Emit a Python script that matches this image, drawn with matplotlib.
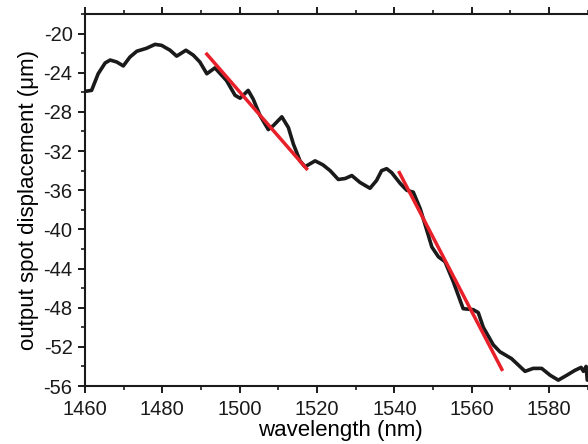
import numpy as np
import matplotlib.pyplot as plt
from matplotlib.ticker import MultipleLocator

plt.rcParams['font.family'] = ['Liberation Sans', 'DejaVu Sans']
plt.rcParams['axes.unicode_minus'] = False

wavelength = [1460.0, 1461.7, 1463.4, 1465.2, 1466.5, 1468.2, 1469.9, 1471.6, 1473.4, 1475.9,
              1478.1, 1479.8, 1482.0, 1483.7, 1486.1, 1488.0, 1489.7, 1491.5, 1493.6, 1496.6,
              1498.8, 1500.1, 1502.2, 1503.5, 1505.3, 1507.4, 1508.7, 1510.9, 1512.6, 1513.9,
              1515.6, 1516.9, 1519.5, 1521.5, 1523.4, 1525.5, 1527.3, 1529.0, 1531.1, 1533.7,
              1535.4, 1536.7, 1538.0, 1539.3, 1541.5, 1543.2, 1544.9, 1546.7, 1548.4, 1549.7,
              1551.4, 1553.1, 1555.2, 1557.8, 1560.4, 1561.7, 1563.0, 1565.6, 1567.3, 1570.3,
              1573.8, 1575.9, 1578.1, 1580.3, 1582.4, 1584.6, 1586.7, 1588.3, 1588.9, 1589.6,
              1589.9]
displacement = [-25.9, -25.8, -24.1, -23.0, -22.7, -22.9, -23.3, -22.4, -21.8, -21.5,
                -21.1, -21.2, -21.7, -22.3, -21.7, -22.2, -22.9, -24.1, -23.5, -24.8,
                -26.3, -26.6, -25.8, -26.7, -28.4, -29.8, -29.4, -28.5, -29.6, -31.3,
                -33.0, -33.6, -33.0, -33.4, -34.0, -34.9, -34.8, -34.5, -35.2, -35.8,
                -35.0, -34.0, -33.8, -34.2, -35.3, -36.0, -36.2, -37.9, -40.1, -41.8,
                -42.8, -43.3, -45.3, -48.1, -48.2, -48.5, -50.0, -51.8, -52.5, -53.2,
                -54.5, -54.2, -54.2, -54.9, -55.4, -54.9, -54.4, -54.1, -54.5, -54.0,
                -55.4]

# linear fits (end points)
fit1_x = [1491.5, 1517.3]
fit1_y = [-22.1, -33.8]
fit2_x = [1541.3, 1567.8]
fit2_y = [-34.2, -54.3]

fig = plt.figure(figsize=(5.88, 4.44), dpi=100)
ax = fig.add_axes([0.1446, 0.1306, 0.868, 0.8378])

ax.plot(wavelength, displacement, color='#1a1a1a', lw=2.6,
        solid_joinstyle='round', solid_capstyle='round')
ax.plot(fit1_x, fit1_y, color='#e8202a', lw=2.5)
ax.plot(fit2_x, fit2_y, color='#e8202a', lw=2.5)

ax.set_xlim(1460, 1592)
ax.set_ylim(-56, -18)
ax.xaxis.set_major_locator(MultipleLocator(20))
ax.xaxis.set_minor_locator(MultipleLocator(10))
ax.yaxis.set_minor_locator(MultipleLocator(2))
ax.set_yticks(np.arange(-56, -19, 4))

for s in ax.spines.values():
    s.set_linewidth(1.5)
    s.set_color('#1a1a1a')

ax.tick_params(which='major', direction='out', length=5, width=1.4, labelsize=14.5,
               top=True, colors='#1a1a1a')
ax.tick_params(which='minor', direction='out', length=3, width=1.2, top=True, colors='#1a1a1a')
ax.tick_params(axis='x', which='major', pad=5)
ax.tick_params(axis='y', which='major', pad=4)

ax.set_xlabel('wavelength (nm)', fontsize=16, labelpad=1)
ax.set_ylabel('output spot displacement (\u03bcm)', fontsize=16, labelpad=3)

fig.savefig('out.png', dpi=100)
